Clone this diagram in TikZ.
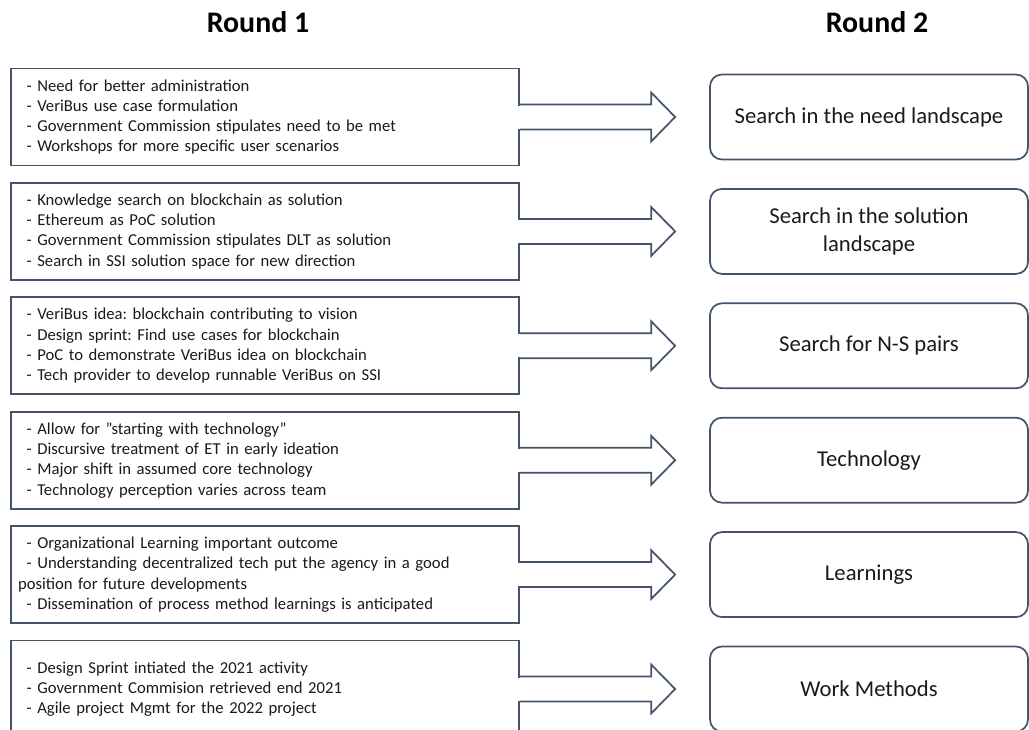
\documentclass[tikz,border=0pt]{standalone}
\usepackage{fontspec}
\setmainfont{Carlito}
\usepackage{tikz}
\usetikzlibrary{calc}
\frenchspacing
\definecolor{frame}{HTML}{44546A}
\definecolor{ink}{HTML}{1A1A1A}
\tikzset{
  notes/.style={draw=frame,line width=1.3pt,fill=white,text=ink,
    minimum width=381pt,minimum height=72.75pt,inner xsep=5.25pt,
    text width=370.5pt,align=left,font=\fontsize{12.5pt}{15.2pt}\selectfont},
  theme/.style={draw=frame,line width=1.3pt,rounded corners=9pt,text=ink,
    minimum width=238.5pt,minimum height=63.75pt,align=center,
    font=\fontsize{17pt}{21pt}\selectfont},
  heading/.style={anchor=base,font=\fontsize{22.4pt}{27pt}\selectfont\bfseries},
  bigarrow/.style={draw=frame,line width=1.3pt,line join=miter},
}
\newcommand{\dashline}{\hspace*{6.5pt}-~}

\begin{document}
\begin{tikzpicture}[x=0.75pt,y=-0.75pt]
  \useasboundingbox (0,0) rectangle (1029,729);
  \clip (0,0) rectangle (1029,729);

  \node[heading] (round1) at (258,32) {Round 1};
  \node[heading] (round2) at (877,32) {Round 2};

  % Round 1 notes
  \node[notes] (l1) at (265,117) {\dashline Need for better administration\\
    \dashline VeriBus use case formulation\\
    \dashline Government Commission stipulates need to be met\\
    \dashline Workshops for more specific user scenarios};
  \node[notes] (l2) at (265,231.4) {\dashline Knowledge search on blockchain as solution\\
    \dashline Ethereum as PoC solution\\
    \dashline Government Commission stipulates DLT as solution\\
    \dashline Search in SSI solution space for new direction};
  \node[notes] (l3) at (265,345.8) {\dashline VeriBus idea: blockchain contributing to vision\\
    \dashline Design sprint: Find use cases for blockchain\\
    \dashline PoC to demonstrate VeriBus idea on blockchain\\
    \dashline Tech provider to develop runnable VeriBus on SSI};
  \node[notes] (l4) at (265,460.2) {\dashline Allow for ”starting with technology”\\
    \dashline Discursive treatment of ET in early ideation\\
    \dashline Major shift in assumed core technology\\
    \dashline Technology perception varies across team};
  \node[notes] (l5) at (265,574.6) {\dashline Organizational Learning important outcome\\
    \dashline Understanding decentralized tech put the agency in a good\\
    position for future developments\\
    \dashline Dissemination of process method learnings is anticipated};
  \node[notes] (l6) at (265,689) {\dashline Design Sprint intiated the 2021 activity\\
    \dashline Government Commision retrieved end 2021\\
    \dashline Agile project Mgmt for the 2022 project};

  % Round 2 themes
  \node[theme] (r1) at (869,117) {Search in the need landscape};
  \node[theme] (r2) at (869,231.4) {Search in the solution\\landscape};
  \node[theme] (r3) at (869,345.8) {Search for N-S pairs};
  \node[theme] (r4) at (869,460.2) {Technology};
  \node[theme] (r5) at (869,574.6) {Learnings};
  \node[theme] (r6) at (869,689) {Work Methods};

  % block arrows
  \foreach \i in {1,...,6}{
    \coordinate (t\i) at ($(r\i.west)+(-34,0)$);
    \fill[white] ($(l\i.east)+(-3,-11.5)$) rectangle ($(l\i.east)+(3,11.5)$);
    \draw[bigarrow] ($(l\i.east)+(0,-12.5)$) -- ($(t\i)+(-24,-12.5)$) -- ++(0,-12)
      -- (t\i) -- ($(t\i)+(-24,24.5)$) -- ++(0,-12) -- ($(l\i.east)+(0,12.5)$);
  }
\end{tikzpicture}
\end{document}
